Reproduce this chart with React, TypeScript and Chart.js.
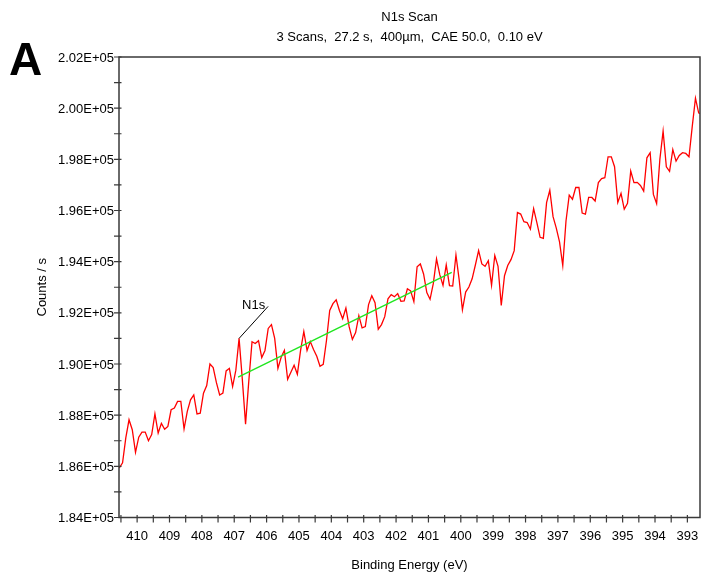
import { useEffect, useRef } from "react";
import { Chart, registerables } from "chart.js";

Chart.register(...registerables);

const TITLE = "N1s Scan";
const SUBTITLE = "3 Scans,  27.2 s,  400µm,  CAE 50.0,  0.10 eV";
const PANEL_LETTER = "A";
const X_TITLE = "Binding Energy (eV)";
const Y_TITLE = "Counts / s";

// Acquisition grid: first channel and step, from high to low binding energy (eV)
const START_EV = 410.55;
const STEP_EV = 0.1;

// Measured intensity per channel (counts / s)
const COUNTS = [
  185940, 186140, 187110, 187820, 187430, 186550, 187140, 187340, 187340, 187000,
  187240, 188050, 187300, 187680, 187450, 187560, 188210, 188280, 188540, 188540,
  187460, 188150, 188600, 188790, 188050, 188080, 188860, 189160, 190000, 189860,
  189270, 188790, 188860, 189730, 189830, 189120, 189760, 191000, 189400, 187650,
  189330, 190870, 190800, 190910, 190250, 190530, 191390, 191540, 191000, 189830,
  190260, 190530, 189400, 189680, 189950, 189600, 190530, 191270, 190530, 190880,
  190570, 190300, 189910, 189990, 190920, 192090, 192360, 192510, 192090, 191770,
  192190, 191460, 190960, 191230, 191890, 191410, 191460, 192320, 192670, 192400,
  191360, 191540, 191850, 192550, 192710, 192630, 192750, 192450, 192470, 192940,
  192860, 192440, 193800, 193910, 193520, 192790, 192530, 193140, 194110, 193490,
  193070, 193870, 193060, 193050, 194260, 193290, 192120, 192810, 193010, 193330,
  193870, 194430, 193910, 193820, 194040, 193080, 194240, 193820, 192290, 193450,
  193850, 194080, 194430, 195920, 195860, 195560, 195530, 195270, 196070, 195530,
  194950, 194910, 196310, 196790, 195760, 195310, 194770, 193850, 195590, 196600,
  196440, 196900, 196900, 195900, 195860, 196510, 196510, 196370, 197090, 197250,
  197280, 198100, 198100, 197710, 196310, 196670, 196050, 196280, 197540, 197090,
  197100, 196980, 196760, 198060, 198260, 196630, 196270, 198000, 199100, 197710,
  197530, 198380, 197930, 198150, 198260, 198230, 198100, 199280, 200390, 199810,
  199780,
];

// Linear background under the N1s region
const BACKGROUND_EV = [406.88, 400.28];
const BACKGROUND_COUNTS = [189490, 193580];

// Peak marker
const PEAK_NAME = "N1s";
const PEAK_EV = 406.85;

// Axes
const X_MIN = 392.61;
const X_MAX = 410.56;
const Y_MIN = 184000;
const Y_MAX = 202000;
const X_TICKS = [410, 409, 408, 407, 406, 405, 404, 403, 402, 401, 400, 399, 398, 397, 396, 395, 394, 393];
const X_MINOR_TICKS = [410.5, 409.5, 408.5, 407.5, 406.5, 405.5, 404.5, 403.5, 402.5, 401.5, 400.5, 399.5, 398.5, 397.5, 396.5, 395.5, 394.5, 393.5];
const Y_TICKS = [184000, 186000, 188000, 190000, 192000, 194000, 196000, 198000, 200000, 202000];
const Y_TICK_LABELS = ["1.84E+05", "1.86E+05", "1.88E+05", "1.90E+05", "1.92E+05", "1.94E+05", "1.96E+05", "1.98E+05", "2.00E+05", "2.02E+05"];
const Y_MINOR_TICKS = [185000, 187000, 189000, 191000, 193000, 195000, 197000, 199000, 201000];

const FONT_FAMILY = '"Liberation Sans", Arial, sans-serif';
const FONT = `13px ${FONT_FAMILY}`;
const AXIS_COLOR = "#3a3a3a";

const ENERGIES = COUNTS.map((_, i) => +(START_EV - i * STEP_EV).toFixed(2));

const spectrumFrame = {
  id: "spectrumFrame",
  afterDatasetsDraw(chart: any) {
    const { ctx, chartArea: a, scales } = chart;
    const x = scales.x;
    const y = scales.y;
    ctx.save();

    // Peak label with leader line
    let k = 0;
    ENERGIES.forEach((e, i) => {
      if (Math.abs(e - PEAK_EV) < Math.abs(ENERGIES[k] - PEAK_EV)) k = i;
    });
    const px = x.getPixelForValue(ENERGIES[k]);
    const py = y.getPixelForValue(COUNTS[k]);
    ctx.strokeStyle = "#000";
    ctx.lineWidth = 1;
    ctx.beginPath();
    ctx.moveTo(px, py);
    ctx.lineTo(px + 29, py - 32);
    ctx.stroke();
    ctx.fillStyle = "#000";
    ctx.font = FONT;
    ctx.textAlign = "left";
    ctx.textBaseline = "alphabetic";
    ctx.fillText(PEAK_NAME, px + 3, py - 29);

    // Plot frame
    ctx.strokeStyle = AXIS_COLOR;
    ctx.lineWidth = 1.5;
    ctx.strokeRect(a.left, a.top, a.right - a.left, a.bottom - a.top);

    // X ticks (major + minor) across the bottom edge
    ctx.lineWidth = 1.2;
    ctx.beginPath();
    [...X_TICKS, ...X_MINOR_TICKS].forEach((v) => {
      if (v < X_MIN || v > X_MAX) return;
      const xp = x.getPixelForValue(v);
      ctx.moveTo(xp, a.bottom - 2.5);
      ctx.lineTo(xp, a.bottom + 5);
    });
    // Y ticks (major + minor) across the left edge
    [...Y_TICKS, ...Y_MINOR_TICKS].forEach((v) => {
      const yp = y.getPixelForValue(v);
      ctx.moveTo(a.left - 5, yp);
      ctx.lineTo(a.left + 2.5, yp);
    });
    ctx.stroke();

    // Tick labels
    ctx.fillStyle = "#000";
    ctx.font = FONT;
    ctx.textAlign = "center";
    ctx.textBaseline = "middle";
    X_TICKS.forEach((v) => {
      ctx.fillText(String(v), x.getPixelForValue(v), a.bottom + 19);
    });
    ctx.textAlign = "right";
    Y_TICKS.forEach((v, i) => {
      ctx.fillText(Y_TICK_LABELS[i], a.left - 5, y.getPixelForValue(v) + 1);
    });

    // Axis titles
    ctx.textAlign = "center";
    ctx.fillText(X_TITLE, (a.left + a.right) / 2, a.bottom + 48);
    ctx.save();
    ctx.translate(42, (a.top + a.bottom) / 2);
    ctx.rotate(-Math.PI / 2);
    ctx.fillText(Y_TITLE, 0, 0);
    ctx.restore();

    // Titles
    ctx.fillText(TITLE, (a.left + a.right) / 2, 17);
    ctx.fillText(SUBTITLE, (a.left + a.right) / 2, 37);

    // Panel letter
    ctx.font = `bold 46px ${FONT_FAMILY}`;
    ctx.textAlign = "left";
    ctx.textBaseline = "alphabetic";
    ctx.fillText(PANEL_LETTER, 9, 75);

    ctx.restore();
  },
};

export default function App() {
  const canvasRef = useRef<HTMLCanvasElement | null>(null);

  useEffect(() => {
    document.body.style.margin = "0";
    const canvas = canvasRef.current;
    if (!canvas) return;

    const chart = new Chart(canvas, {
      type: "line",
      data: {
        datasets: [
          {
            label: "Background",
            data: BACKGROUND_EV.map((e, i) => ({ x: e, y: BACKGROUND_COUNTS[i] })),
            borderColor: "#1fe61f",
            borderWidth: 1.4,
            pointRadius: 0,
            order: 0,
          },
          {
            label: "N1s",
            data: ENERGIES.map((e, i) => ({ x: e, y: COUNTS[i] })),
            borderColor: "#ff0000",
            borderWidth: 1.3,
            pointRadius: 0,
            tension: 0,
            order: 1,
          },
        ],
      },
      options: {
        animation: false,
        responsive: false,
        devicePixelRatio: 1,
        events: [],
        layout: { padding: { left: 119, right: 1, top: 57, bottom: 57.5 } },
        plugins: {
          legend: { display: false },
          title: { display: false },
          tooltip: { enabled: false },
        },
        scales: {
          x: { type: "linear", reverse: true, min: X_MIN, max: X_MAX, display: false },
          y: { type: "linear", min: Y_MIN, max: Y_MAX, display: false },
        },
      },
      plugins: [spectrumFrame],
    });

    return () => chart.destroy();
  }, []);

  return (
    <div style={{ position: "absolute", left: 0, top: 0, width: 701, height: 575, background: "#fff" }}>
      <canvas ref={canvasRef} width={701} height={575} style={{ display: "block" }} />
    </div>
  );
}
